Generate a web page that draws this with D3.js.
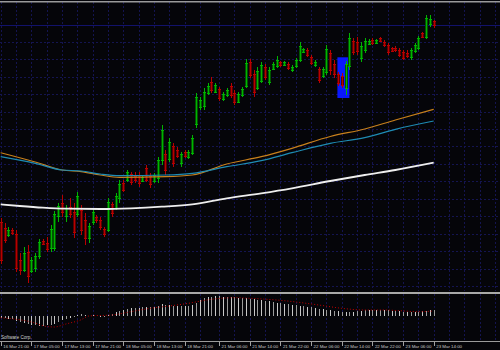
<!DOCTYPE html>
<html><head><meta charset="utf-8">
<script src="https://cdn.jsdelivr.net/npm/d3@7"></script>
<style>html,body{margin:0;padding:0;background:#050509;overflow:hidden}</style>
</head><body>
<svg id="c" width="500" height="350"></svg>
<script>
// ---- data (price in chart points; hourly bars) ----
const openV  = [78,72,65,70,66,40,30,48,29,32,44,59,57,52,52,84,97,84,93,88,86,90,80,62,78,83,80,71,70,96,92,102,117,120,126,124,125,119,132,124,119,122,140,146,141,154,150,137,148,143,147,176,193,194,207,218,208,211,201,205,214,207,198,205,214,238,226,212,219,233,218,231,234,238,235,236,230,234,240,248,250,243,235,231,224,228,247,236,226,224,212,234,259,258,242,250,256,260,257,262,258,255,252,252,250,248,247,243,249,252,267,263,276,279];
const highV  = [82,77,73,72,70,47,53,55,43,47,61,61,63,75,89,97,105,95,102,97,108,95,87,77,92,85,83,73,102,98,107,120,120,130,128,128,128,125,135,127,127,143,175,150,162,157,153,148,150,150,165,207,203,212,217,223,217,213,208,212,217,210,208,213,241,241,230,233,238,236,233,238,244,239,239,238,235,242,258,252,252,245,240,233,233,255,250,240,228,227,239,267,262,263,258,262,261,262,261,263,260,257,253,254,252,250,250,252,257,264,268,285,285,280];
const lowV   = [36,57,63,65,28,25,28,17,27,28,41,55,48,48,49,78,83,78,82,62,83,65,55,57,75,77,70,63,68,83,90,97,108,118,115,117,113,118,118,112,117,117,135,125,138,133,142,133,142,141,145,172,190,190,205,207,207,199,199,203,202,195,197,203,212,222,203,210,217,220,215,230,232,233,234,230,228,232,238,247,243,235,233,217,222,225,225,222,214,212,205,230,245,245,238,247,255,255,256,258,253,245,248,248,243,240,242,240,247,250,262,261,273,272];
const closeV = [40,60,70,67,32,30,47,24,40,44,58,56,51,71,86,94,88,92,86,68,104,70,62,74,88,80,73,66,98,87,104,116,110,128,118,120,117,123,120,116,125,140,170,130,158,137,144,146,144,148,162,203,200,208,214,210,215,202,206,210,205,198,206,211,237,225,208,229,235,223,230,236,240,235,238,232,233,240,254,251,245,237,238,220,231,251,230,226,217,215,236,262,248,249,254,259,259,257,260,259,255,248,249,250,245,242,244,250,255,262,263,282,281,275];

// moving averages read at selected bars
const maIdx    = [0, 9, 16, 21, 26, 31, 43, 50, 59, 68, 76, 86, 95, 103, 113];
const maOrange = [147.3, 138, 130, 128.3, 125, 122.7, 123.3, 125, 136, 143.3, 151.7, 163.5, 171, 180, 190.7];
const maBlue   = [143.3, 136.7, 130, 129, 126, 124.3, 125, 126.7, 133.3, 139.3, 147.3, 156.7, 162.3, 170.7, 179];
const whiteIdx = [0, 5, 11, 17, 26, 34, 42, 50, 59, 68, 76, 86, 95, 103, 113];
const maWhite  = [95.7, 94, 92.3, 91.3, 91, 91.7, 93.3, 95.7, 101.7, 106.7, 111.7, 119, 125, 130, 137.3];

// oscillator sub-window
const histV = [-2,-2,-3,-3, -5,-6,-7,-8,-9,-9,-10,-10,-9,-9,-8, -6,-4,-3,-2,-1, 1,2,1,0,1,0,-1,-1,1, 2,4,5,6,7, 8,8,8,9,9,9,9, 10,12,11,11,10,10,10,10,10, 11,13,16,18, 19,19,20,20,19,19,19,19,18,18,18, 17,17,16,16,15,15, 14,13,13,12,12,11,11,10,10, 9,9,8,7,7,6, 6,5,5,4,4,4,4, 5,5,6,6,6,6,6,6,6,5,5,5, 4,4,4,4,4,5, 5,6,6];
const sigIdx = [0,8,12,14,17,21,23,29,34,39,44,49,55,61,65,74,83,89,95,100,104,109,113];
const sigV   = [-1.7,-6,-10.5,-11,-8,-3.7,0,1,4.3,7.7,10,12.7,16.7,18.3,17.7,15.3,11,7.7,6,6,5.3,4.3,5];

// objects
const boxBars = [88, 91];
const boxLevels = [242.7, 202];
const levelLine = 275.5;
const gridLevels = d3.range(14, 280, 17.45);

// time labels
const labelIdx = [0,8,16,24,32,40,48,57,65,73,81,89,97,105,113];
const labelText = ["16 Mar 21:00","17 Mar 05:00","17 Mar 13:00","17 Mar 21:00","18 Mar 05:00","18 Mar 13:00","18 Mar 21:00","21 Mar 06:00","21 Mar 14:00","21 Mar 22:00","22 Mar 06:00","22 Mar 14:00","22 Mar 22:00","23 Mar 06:00","23 Mar 14:00"];
const corpName = "Software Corp.";

// ---- drawing ----
const W = 500, H = 350;
const svg = d3.select("#c");
const x = d3.scaleLinear().domain([0, 113]).range([0.7, 433.7]);
const y = d3.scaleLinear().domain([0, 300]).range([300, 0]);
const ys = d3.scaleLinear().domain([-22, 22]).range([338, 294]);

svg.append("rect").attr("width", W).attr("height", H).attr("fill", "#050509");

svg.append("defs").append("clipPath").attr("id", "mainclip")
  .append("rect").attr("x", 0).attr("y", 2).attr("width", W).attr("height", 289);

// vertical grid positions: label bars, midpoints, and continuation into the shift area
const gridIdx = [];
labelIdx.forEach((d, i) => {
  gridIdx.push(d);
  if (i < labelIdx.length - 1) gridIdx.push(Math.floor((d + labelIdx[i + 1]) / 2));
});
for (let k = 117; k <= 130; k += 4) gridIdx.push(k);

const grid = svg.append("g").attr("stroke", "#141450").attr("stroke-width", 1)
  .attr("stroke-dasharray", "2,2").attr("shape-rendering", "crispEdges");
grid.selectAll("line.v").data(gridIdx).join("line").attr("class", "v")
  .attr("x1", d => Math.round(x(d)) + 0.5).attr("x2", d => Math.round(x(d)) + 0.5)
  .attr("y1", 2).attr("y2", 291);
grid.selectAll("line.vs").data(gridIdx).join("line").attr("class", "vs")
  .attr("x1", d => Math.round(x(d)) + 0.5).attr("x2", d => Math.round(x(d)) + 0.5)
  .attr("y1", 294).attr("y2", 340);
grid.selectAll("line.h").data(gridLevels.slice(0, -1)).join("line").attr("class", "h")
  .attr("x1", 0).attr("x2", W)
  .attr("y1", d => Math.round(y(d)) + 0.5).attr("y2", d => Math.round(y(d)) + 0.5);

// level line
svg.append("line").attr("x1", 0).attr("x2", W)
  .attr("y1", Math.round(y(levelLine)) + 0.5).attr("y2", Math.round(y(levelLine)) + 0.5)
  .attr("stroke", "#12126a").attr("stroke-width", 1);

const main = svg.append("g").attr("clip-path", "url(#mainclip)");

// blue box
main.append("rect")
  .attr("x", x(boxBars[0]) - 0.5).attr("width", x(boxBars[1]) - x(boxBars[0]) + 0.5)
  .attr("y", y(boxLevels[0])).attr("height", y(boxLevels[1]) - y(boxLevels[0]))
  .attr("fill", "#0a18ff");

// candles
const bars = d3.range(openV.length).map(i => ({
  i, o: openV[i], h: highV[i], l: lowV[i], c: closeV[i], up: closeV[i] >= openV[i]
}));
const cg = main.append("g").attr("shape-rendering", "crispEdges");
const cand = cg.selectAll("g").data(bars).join("g");
cand.append("rect")
  .attr("x", d => Math.round(x(d.i)) - 1).attr("width", 3)
  .attr("y", d => y(Math.max(d.o, d.c)))
  .attr("height", d => Math.max(1, Math.abs(y(d.o) - y(d.c))))
  .attr("fill", d => d.up ? "#005400" : "#5a0000");
cand.append("line")
  .attr("x1", d => Math.round(x(d.i)) + 0.5).attr("x2", d => Math.round(x(d.i)) + 0.5)
  .attr("y1", d => y(d.h)).attr("y2", d => y(d.l))
  .attr("stroke", d => d.up ? "#00b400" : "#b80000").attr("stroke-width", 1);
["o", "c"].forEach(k => {
  cand.append("line")
    .attr("x1", d => Math.round(x(d.i)) - 1).attr("x2", d => Math.round(x(d.i)) + 2)
    .attr("y1", d => Math.round(y(d[k])) + 0.5).attr("y2", d => Math.round(y(d[k])) + 0.5)
    .attr("stroke", d => d.up ? "#00b400" : "#b80000").attr("stroke-width", 1);
});

// moving averages
const line = d3.line().x(d => x(d[0])).y(d => y(d[1])).curve(d3.curveMonotoneX);
main.append("path").datum(maIdx.map((d, i) => [d, maOrange[i]]))
  .attr("d", line).attr("fill", "none").attr("stroke", "#c8801c").attr("stroke-width", 1.2);
main.append("path").datum(maIdx.map((d, i) => [d, maBlue[i]]))
  .attr("d", line).attr("fill", "none").attr("stroke", "#1e8cb4").attr("stroke-width", 1.2);
main.append("path").datum(whiteIdx.map((d, i) => [d, maWhite[i]]))
  .attr("d", line).attr("fill", "none").attr("stroke", "#eeeeee").attr("stroke-width", 1.8);

// frame lines
svg.append("rect").attr("x", 0).attr("y", 1).attr("width", W).attr("height", 1.5).attr("fill", "#9a9a9a");
svg.append("rect").attr("x", 0).attr("y", 292).attr("width", W).attr("height", 2).attr("fill", "#a8a8a8");

// sub window histogram
svg.append("g").attr("shape-rendering", "crispEdges")
  .selectAll("line").data(histV).join("line")
  .attr("x1", (d, i) => Math.round(x(i)) + 0.5).attr("x2", (d, i) => Math.round(x(i)) + 0.5)
  .attr("y1", ys(0)).attr("y2", d => ys(d))
  .attr("stroke", (d, i) => i % 2 ? "#9a9a9a" : "#c8c8c8").attr("stroke-width", 1);
const sline = d3.line().x(d => x(d[0])).y(d => ys(d[1])).curve(d3.curveMonotoneX);
svg.append("path").datum(sigIdx.map((d, i) => [d, sigV[i]]))
  .attr("d", sline).attr("fill", "none").attr("stroke", "#c00000")
  .attr("stroke-width", 1).attr("stroke-dasharray", "1,2");

// name
svg.append("text").attr("x", 1).attr("y", 339).text(corpName)
  .attr("font-family", "Liberation Sans, Arial, sans-serif").attr("font-size", 4.6)
  .attr("fill", "#d0d0d0");

// time axis
svg.append("line").attr("x1", 0).attr("x2", W).attr("y1", 341.5).attr("y2", 341.5)
  .attr("stroke", "#9a9a9a").attr("stroke-width", 1);
const ax = svg.append("g");
ax.selectAll("line").data(labelIdx).join("line")
  .attr("x1", d => Math.round(x(d)) + 0.5).attr("x2", d => Math.round(x(d)) + 0.5)
  .attr("y1", 341.5).attr("y2", 346).attr("stroke", "#a0a0a0").attr("stroke-width", 1);
ax.selectAll("text").data(labelIdx).join("text")
  .attr("x", d => x(d) + 2.5).attr("y", 348)
  .text((d, i) => labelText[i])
  .attr("font-family", "Liberation Sans, Arial, sans-serif").attr("font-size", 4.4)
  .attr("fill", "#c8c8c8");
</script>
</body></html>
